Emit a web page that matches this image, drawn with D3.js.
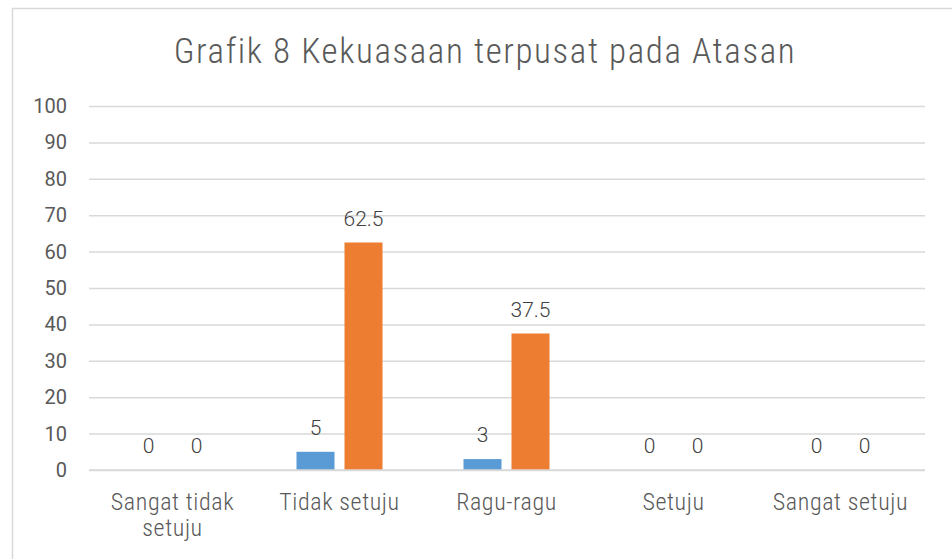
<!DOCTYPE html>
<html>
<head>
<meta charset="utf-8">
<script src="https://cdn.jsdelivr.net/npm/d3@7/dist/d3.min.js"></script>
<style>
  html, body { margin: 0; padding: 0; background: #fff; }
  svg { display: block; }
</style>
</head>
<body>
<svg id="chart" width="952" height="559"></svg>
<script>
const title = "Grafik 8 Kekuasaan terpusat pada Atasan";
const categories = ["Sangat tidak setuju", "Tidak setuju", "Ragu-ragu", "Setuju", "Sangat setuju"];
const categoryLines = [["Sangat tidak", "setuju"], ["Tidak setuju"], ["Ragu-ragu"], ["Setuju"], ["Sangat setuju"]];
const seriesNames = ["Frekuensi", "Persentase"];
const frekuensi = [0, 5, 3, 0, 0];
const persentase = [0, 62.5, 37.5, 0, 0];
const seriesColors = ["#5B9BD5", "#ED7D31"];
const yTicks = [0, 10, 20, 30, 40, 50, 60, 70, 80, 90, 100];

const seriesValues = [frekuensi, persentase];
const svg = d3.select("#chart");
const narrow = "'Roboto Condensed', 'Liberation Sans Narrow', 'Arial Narrow', sans-serif";
const textFont = "Roboto, 'Noto Sans', sans-serif";
const textColor = "#595959";

// outer frame
svg.append("rect")
  .attr("x", 12.5).attr("y", 8.5)
  .attr("width", 1000).attr("height", 600)
  .attr("fill", "#fff").attr("stroke", "#D9D9D9").attr("stroke-width", 1.5);

const margin = { left: 89, right: 924, top: 106, bottom: 470 };

const x0 = d3.scaleBand().domain(categories).range([margin.left, margin.right]).padding(0);
const groupWidth = 86;
const x1 = d3.scaleBand().domain(seriesNames).range([0, groupWidth]).paddingInner(10 / 48).paddingOuter(0);
const y = d3.scaleLinear().domain([0, 100]).range([margin.bottom, margin.top]);

// title
svg.append("text")
  .attr("x", 485).attr("y", 63)
  .attr("text-anchor", "middle")
  .attr("font-family", narrow)
  .attr("font-weight", 300)
  .attr("font-size", 35)
  .attr("letter-spacing", 1.6)
  .attr("fill", textColor)
  .text(title);

// gridlines
const yAxis = d3.axisLeft(y).tickValues(yTicks).tickSize(-(margin.right + 1 - margin.left)).tickPadding(22);
const gy = svg.append("g").attr("transform", `translate(${margin.left},0)`).call(yAxis);
gy.select(".domain").remove();
gy.selectAll(".tick line").attr("stroke", "#D9D9D9").attr("stroke-width", 1.5);
gy.selectAll(".tick text")
  .attr("font-family", textFont).attr("font-size", 20).attr("fill", textColor);

// bars
const rows = categories.map((c, i) => ({ cat: c, vals: seriesNames.map((s, j) => ({ s, j, v: seriesValues[j][i] })) }));
const groups = svg.append("g").selectAll("g").data(rows).join("g")
  .attr("transform", d => `translate(${x0(d.cat) + (x0.bandwidth() - groupWidth) / 2},0)`);

groups.selectAll("rect").data(d => d.vals).join("rect")
  .attr("x", d => x1(d.s))
  .attr("y", d => y(d.v))
  .attr("width", x1.bandwidth())
  .attr("height", d => y(0) - y(d.v))
  .attr("fill", d => seriesColors[d.j]);

groups.selectAll("text.lbl").data(d => d.vals).join("text")
  .attr("class", "lbl")
  .attr("x", d => x1(d.s) + x1.bandwidth() / 2)
  .attr("y", d => y(d.v) - 17)
  .attr("text-anchor", "middle")
  .attr("font-family", textFont).attr("font-size", 21)
  .attr("font-weight", 300)
  .attr("fill", "#404040")
  .text(d => d3.format("~g")(d.v));

// x axis baseline
svg.append("line")
  .attr("x1", margin.left).attr("x2", margin.right + 1)
  .attr("y1", y(0)).attr("y2", y(0))
  .attr("stroke", "#D9D9D9").attr("stroke-width", 1.5);

// category labels
const catG = svg.append("g").selectAll("text").data(categories).join("text")
  .attr("x", d => x0(d) + x0.bandwidth() / 2)
  .attr("y", 510)
  .attr("text-anchor", "middle")
  .attr("font-family", narrow).attr("font-size", 24)
  .attr("font-weight", 300)
  .attr("letter-spacing", 0.6)
  .attr("fill", textColor);
catG.each(function(d, i) {
  const t = d3.select(this);
  categoryLines[i].forEach((line, k) => {
    t.append("tspan").attr("x", x0(d) + x0.bandwidth() / 2).attr("dy", k === 0 ? 0 : 26).text(line);
  });
});
</script>
</body>
</html>
